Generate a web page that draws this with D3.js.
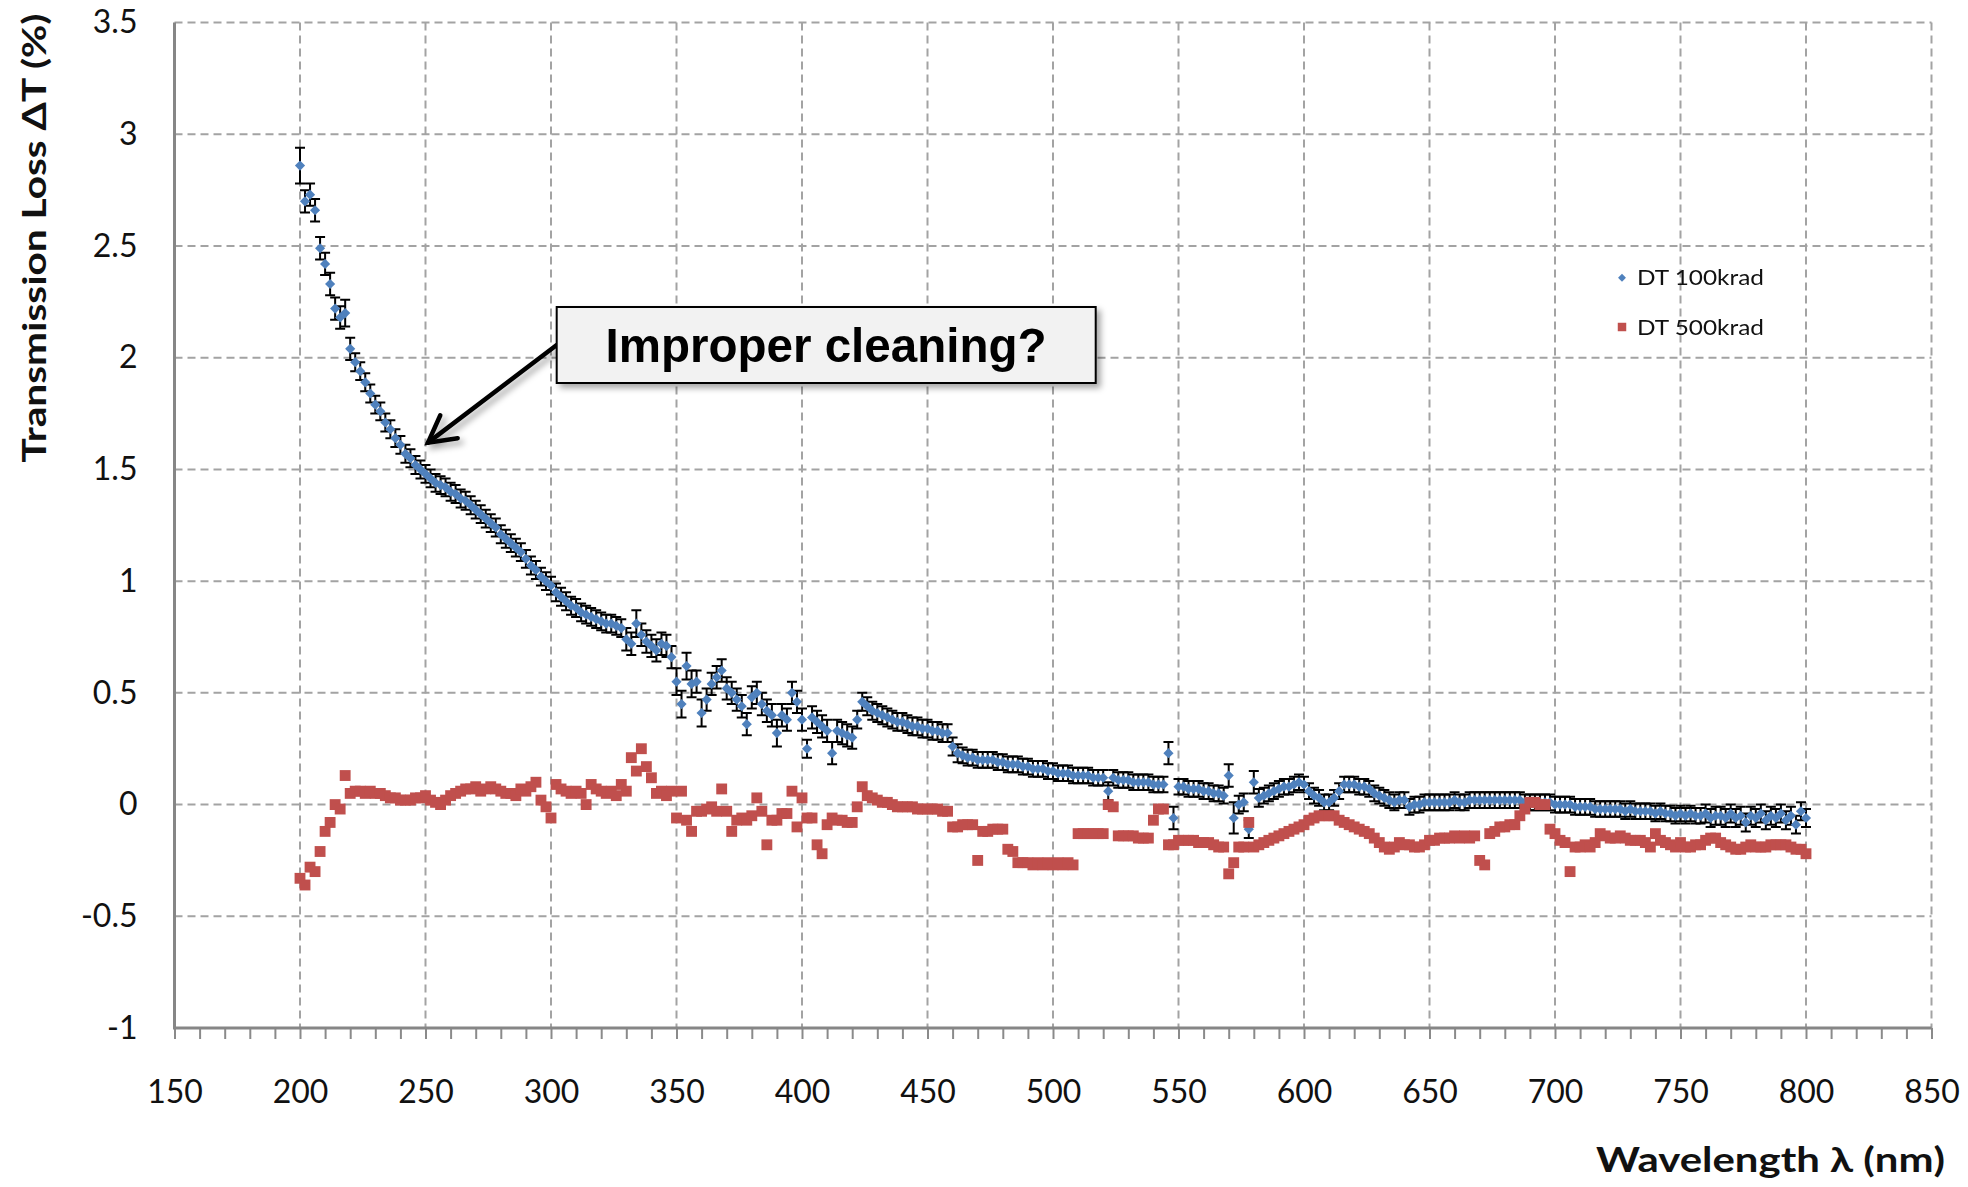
<!DOCTYPE html>
<html><head><meta charset="utf-8">
<script src="https://cdn.jsdelivr.net/npm/d3@7"></script>
<style>
html,body{margin:0;padding:0;background:#fff;}
svg{display:block;}
</style></head><body>
<svg id="chart" width="1968" height="1187"></svg>
<script>
// ---------------- DATA ----------------
const wavelengths = d3.range(200, 801, 2); // nm, sampled every 2 nm
const seriesNames = ["DT 100krad", "DT 500krad"];
const dt100 = [
2.86,2.70,2.73,2.66,2.49,2.42,2.33,2.22,2.18,2.20,
2.04,1.98,1.94,1.89,1.84,1.79,1.76,1.71,1.68,1.64,
1.61,1.57,1.55,1.52,1.50,1.48,1.46,1.44,1.43,1.42,
1.40,1.39,1.37,1.36,1.34,1.32,1.30,1.28,1.26,1.24,
1.21,1.19,1.17,1.15,1.13,1.10,1.07,1.05,1.02,1.00,
0.98,0.95,0.93,0.91,0.89,0.88,0.86,0.85,0.84,0.83,
0.82,0.81,0.81,0.80,0.79,0.74,0.72,0.81,0.76,0.73,
0.71,0.69,0.72,0.71,0.66,0.55,0.45,0.62,0.54,0.55,
0.41,0.47,0.54,0.57,0.60,0.52,0.50,0.47,0.44,0.36,
0.48,0.50,0.45,0.42,0.40,0.32,0.40,0.38,0.50,0.46,
0.38,0.25,0.39,0.37,0.35,0.33,0.23,0.33,0.32,0.31,
0.30,0.38,0.46,0.44,0.42,0.41,0.40,0.39,0.38,0.37,
0.37,0.36,0.35,0.35,0.34,0.34,0.33,0.33,0.32,0.32,
0.26,0.23,0.22,0.21,0.21,0.20,0.20,0.20,0.20,0.19,
0.19,0.18,0.18,0.18,0.17,0.17,0.16,0.16,0.16,0.15,
0.15,0.14,0.14,0.14,0.13,0.13,0.13,0.13,0.12,0.12,
0.12,0.06,0.12,0.11,0.11,0.11,0.10,0.10,0.10,0.10,
0.09,0.09,0.09,0.23,-0.06,0.08,0.08,0.07,0.07,0.07,
0.06,0.06,0.05,0.05,0.04,0.13,-0.06,0.00,0.01,-0.11,
0.10,0.03,0.04,0.05,0.06,0.07,0.08,0.08,0.09,0.10,
0.09,0.06,0.04,0.03,0.01,0.01,0.03,0.06,0.09,0.09,
0.09,0.08,0.08,0.07,0.05,0.04,0.03,0.02,0.01,0.02,
0.02,-0.01,0.00,0.00,0.01,0.01,0.01,0.01,0.01,0.01,
0.02,0.01,0.01,0.02,0.02,0.02,0.02,0.02,0.02,0.02,
0.02,0.02,0.02,0.02,0.01,0.01,0.01,0.01,0.01,0.01,
0.00,0.00,0.00,0.00,-0.01,-0.01,-0.01,-0.01,-0.02,-0.02,
-0.02,-0.02,-0.02,-0.02,-0.03,-0.02,-0.03,-0.03,-0.03,-0.03,
-0.04,-0.03,-0.04,-0.04,-0.05,-0.04,-0.05,-0.04,-0.05,-0.05,
-0.04,-0.06,-0.05,-0.05,-0.06,-0.04,-0.06,-0.05,-0.08,-0.05,
-0.06,-0.04,-0.07,-0.05,-0.06,-0.04,-0.07,-0.05,-0.09,-0.03,
-0.06
];
const dt100Err = [
.08,.05,.05,.05,.05,.05,.05,.05,.05,.06,
.05,.04,.04,.04,.04,.04,.04,.04,.04,.04,
.04,.04,.04,.04,.04,.04,.04,.04,.04,.04,
.04,.04,.04,.04,.04,.04,.04,.04,.04,.04,
.04,.04,.04,.04,.04,.04,.04,.04,.04,.04,
.04,.04,.04,.04,.04,.04,.04,.04,.04,.04,
.04,.04,.04,.04,.04,.05,.05,.06,.05,.05,
.05,.05,.05,.05,.05,.06,.06,.06,.06,.05,
.06,.05,.05,.05,.05,.05,.05,.05,.05,.05,
.05,.05,.05,.05,.05,.06,.05,.05,.05,.05,
.05,.04,.05,.05,.05,.05,.05,.05,.05,.05,
.05,.04,.04,.04,.04,.04,.04,.04,.04,.04,
.04,.04,.04,.04,.04,.04,.04,.04,.04,.04,
.04,.04,.035,.035,.035,.035,.035,.035,.035,.035,
.035,.035,.035,.035,.035,.035,.035,.035,.035,.035,
.035,.035,.035,.035,.035,.035,.035,.035,.035,.035,
.035,.04,.035,.035,.035,.035,.035,.035,.035,.035,
.035,.035,.035,.05,.05,.035,.035,.035,.035,.035,
.035,.035,.035,.035,.035,.05,.07,.04,.04,.04,
.05,.04,.035,.035,.035,.035,.035,.035,.035,.035,
.035,.035,.035,.035,.035,.035,.035,.035,.035,.035,
.035,.035,.035,.035,.035,.035,.035,.035,.035,.035,
.035,.035,.035,.035,.035,.035,.035,.035,.035,.035,
.035,.035,.035,.035,.035,.035,.035,.035,.035,.035,
.035,.035,.035,.035,.035,.035,.035,.035,.035,.035,
.035,.035,.035,.035,.035,.035,.035,.035,.035,.035,
.035,.035,.035,.035,.035,.035,.035,.035,.035,.035,
.035,.035,.035,.035,.035,.035,.035,.035,.035,.035,
.04,.04,.04,.04,.04,.04,.04,.04,.04,.04,
.04,.04,.04,.04,.04,.04,.04,.04,.04,.04,
.04
];
const dt500 = [
-0.33,-0.36,-0.28,-0.30,-0.21,-0.12,-0.08,0.00,-0.02,0.13,
0.05,0.06,0.06,0.05,0.06,0.05,0.05,0.04,0.03,0.03,
0.02,0.02,0.02,0.03,0.03,0.04,0.02,0.01,0.00,0.02,
0.04,0.05,0.06,0.07,0.07,0.08,0.06,0.07,0.08,0.07,
0.06,0.05,0.05,0.04,0.07,0.06,0.08,0.10,0.02,-0.01,
-0.06,0.09,0.07,0.06,0.05,0.06,0.05,0.00,0.09,0.07,
0.06,0.05,0.06,0.04,0.09,0.06,0.21,0.15,0.25,0.17,
0.12,0.05,0.06,0.04,0.06,-0.06,0.06,-0.07,-0.12,-0.03,
-0.03,-0.02,-0.01,-0.03,0.07,-0.03,-0.12,-0.07,-0.06,-0.07,
-0.05,0.03,-0.03,-0.18,-0.07,-0.07,-0.04,-0.04,0.06,-0.10,
0.03,-0.06,-0.06,-0.18,-0.22,-0.09,-0.06,-0.07,-0.07,-0.08,
-0.08,-0.01,0.08,0.04,0.03,0.02,0.01,0.01,0.00,-0.01,
-0.01,-0.01,-0.01,-0.02,-0.02,-0.02,-0.02,-0.02,-0.03,-0.03,
-0.10,-0.10,-0.09,-0.09,-0.09,-0.25,-0.12,-0.12,-0.11,-0.11,
-0.11,-0.20,-0.21,-0.26,-0.26,-0.26,-0.27,-0.26,-0.27,-0.26,
-0.27,-0.26,-0.27,-0.26,-0.27,-0.13,-0.13,-0.13,-0.13,-0.13,
-0.13,0.00,-0.01,-0.14,-0.14,-0.14,-0.14,-0.15,-0.15,-0.15,
-0.07,-0.02,-0.02,-0.18,-0.18,-0.16,-0.16,-0.16,-0.16,-0.17,
-0.17,-0.17,-0.18,-0.19,-0.19,-0.31,-0.26,-0.19,-0.19,-0.08,
-0.19,-0.18,-0.17,-0.16,-0.15,-0.14,-0.13,-0.12,-0.11,-0.10,
-0.09,-0.07,-0.06,-0.05,-0.05,-0.05,-0.05,-0.07,-0.08,-0.09,
-0.10,-0.11,-0.12,-0.13,-0.15,-0.17,-0.19,-0.20,-0.19,-0.17,
-0.18,-0.18,-0.19,-0.19,-0.18,-0.16,-0.16,-0.15,-0.15,-0.15,
-0.14,-0.15,-0.14,-0.15,-0.14,-0.25,-0.27,-0.13,-0.12,-0.10,
-0.10,-0.09,-0.09,-0.05,-0.02,0.01,0.01,0.00,0.00,-0.11,
-0.13,-0.16,-0.17,-0.30,-0.19,-0.19,-0.18,-0.19,-0.17,-0.13,
-0.14,-0.15,-0.15,-0.14,-0.15,-0.16,-0.16,-0.16,-0.17,-0.19,
-0.13,-0.16,-0.17,-0.18,-0.19,-0.17,-0.19,-0.19,-0.18,-0.18,
-0.16,-0.15,-0.15,-0.17,-0.18,-0.19,-0.20,-0.20,-0.19,-0.18,
-0.19,-0.19,-0.19,-0.18,-0.18,-0.18,-0.18,-0.19,-0.20,-0.20,
-0.22
];
const xTicks = [150,200,250,300,350,400,450,500,550,600,650,700,750,800,850];
const yTicks = [-1,-0.5,0,0.5,1,1.5,2,2.5,3,3.5];
const xTitle = "Wavelength \u03bb (nm)";
const yTitle = "Transmission Loss \u0394T (%)";
const noteText = "Improper cleaning?";
const noteTarget = {wl: 251, v: 1.62};

// ---------------- CHART ----------------
const svg = d3.select("#chart");
const x = d3.scaleLinear().domain([150, 850]).range([174.5, 1931.5]);
const y = d3.scaleLinear().domain([-1, 3.5]).range([1028, 22.6]);
const blue = "#4F81BD", red = "#C0504D";
const tickFont = "Lato, 'Open Sans', sans-serif";

const defs = svg.append("defs");
const sh = defs.append("filter").attr("id", "shadow")
  .attr("x", "-20%").attr("y", "-20%").attr("width", "150%").attr("height", "160%");
sh.append("feDropShadow").attr("dx", 4).attr("dy", 4).attr("stdDeviation", 3)
  .attr("flood-color", "#000").attr("flood-opacity", 0.35);
defs.append("filter").attr("id", "soft").append("feGaussianBlur").attr("stdDeviation", 0.7);

// grid
const gGrid = svg.append("g");
gGrid.append("g").selectAll("line").data(xTicks.filter(d => d > 150)).join("line")
  .attr("x1", d => x(d)).attr("x2", d => x(d))
  .attr("y1", y(3.5)).attr("y2", y(-1))
  .attr("stroke", "#a3a3a3").attr("stroke-width", 2).attr("stroke-dasharray", "8,5");
gGrid.append("g").selectAll("line").data(yTicks.filter(d => d > -1)).join("line")
  .attr("x1", x(150)).attr("x2", x(850))
  .attr("y1", d => y(d)).attr("y2", d => y(d))
  .attr("stroke", "#a3a3a3").attr("stroke-width", 2).attr("stroke-dasharray", "8,5");

// minor ticks on bottom axis
const minor = svg.append("g").attr("transform", `translate(0,${y(-1)})`)
  .call(d3.axisBottom(x).tickValues(d3.range(150, 851, 10)).tickSize(11).tickFormat(""));
minor.select(".domain").remove();
minor.selectAll(".tick line").attr("stroke", "#8a8a8a").attr("stroke-width", 2);

// axis lines
svg.append("line").attr("x1", x(150)).attr("x2", x(150)).attr("y1", y(3.5)).attr("y2", y(-1))
  .attr("stroke", "#868686").attr("stroke-width", 3);
svg.append("line").attr("x1", x(150) - 1.5).attr("x2", x(850)).attr("y1", y(-1)).attr("y2", y(-1))
  .attr("stroke", "#868686").attr("stroke-width", 3);

// tick labels
const xAx = svg.append("g").attr("transform", `translate(0,${y(-1)})`)
  .call(d3.axisBottom(x).tickValues(xTicks).tickSize(0).tickPadding(52).tickFormat(d => String(d)));
xAx.select(".domain").remove();
xAx.attr("font-family", tickFont).attr("font-size", 32);
xAx.selectAll("text").attr("fill", "#111");

const yAx = svg.append("g").attr("transform", `translate(${x(150)},0)`)
  .call(d3.axisLeft(y).tickValues(yTicks).tickSize(0).tickPadding(37).tickFormat(d => String(+d.toFixed(1))));
yAx.select(".domain").remove();
yAx.attr("font-family", tickFont).attr("font-size", 32);
yAx.selectAll("text").attr("fill", "#111");

// titles
svg.append("text").attr("transform", "translate(46,238) rotate(-90)")
  .attr("text-anchor", "middle").attr("font-family", tickFont).attr("font-weight", "bold")
  .attr("font-size", 33).attr("fill", "#111")
  .attr("textLength", 449).attr("lengthAdjust", "spacingAndGlyphs").text(yTitle);
svg.append("text").attr("x", 1596).attr("y", 1172)
  .attr("font-family", tickFont).attr("font-weight", "bold")
  .attr("font-size", 34).attr("fill", "#111")
  .attr("textLength", 349).attr("lengthAdjust", "spacingAndGlyphs").text(xTitle);

// data points
const d100 = wavelengths.map((w, i) => ({w, v: dt100[i], e: dt100Err[i]}));
const d500 = wavelengths.map((w, i) => ({w, v: dt500[i]}));

const gData = svg.append("g").attr("filter", "url(#soft)");
const gErr = gData.append("g").attr("stroke", "#000").attr("stroke-width", 2);
gErr.selectAll("path").data(d100).join("path")
  .attr("d", d => {
    const xx = x(d.w), y1 = y(d.v + d.e), y2 = y(d.v - d.e);
    return `M${xx},${y1}V${y2}M${xx - 5},${y1}H${xx + 5}M${xx - 5},${y2}H${xx + 5}`;
  });

const diamond = d3.symbol(d3.symbolDiamond2, 66)();
gData.append("g").selectAll("path").data(d100).join("path")
  .attr("transform", d => `translate(${x(d.w)},${y(d.v)})`)
  .attr("d", diamond).attr("fill", blue);

const square = d3.symbol(d3.symbolSquare, 118)();
gData.append("g").selectAll("path").data(d500).join("path")
  .attr("transform", d => `translate(${x(d.w)},${y(d.v)})`)
  .attr("d", square).attr("fill", red);

// legend
const leg = svg.append("g").attr("font-family", tickFont).attr("font-size", 22).attr("fill", "#111");
const legItems = [{name: seriesNames[0], color: blue, sym: d3.symbol(d3.symbolDiamond2, 40)(), yy: 277.7},
                  {name: seriesNames[1], color: red, sym: d3.symbol(d3.symbolSquare, 72)(), yy: 327}];
legItems.forEach(it => {
  leg.append("path").attr("d", it.sym).attr("fill", it.color).attr("transform", `translate(1622,${it.yy})`);
  leg.append("text").attr("x", 1637).attr("y", it.yy).attr("dy", "0.35em")
    .attr("textLength", 127).attr("lengthAdjust", "spacingAndGlyphs").text(it.name);
});

// annotation arrow
const tip = [x(noteTarget.wl), y(noteTarget.v)];
const start = [556.7, 345];
const ang = Math.atan2(start[1] - tip[1], start[0] - tip[0]);
const hl = 30, ha = 0.5;
const a1 = [tip[0] + hl * Math.cos(ang - ha), tip[1] + hl * Math.sin(ang - ha)];
const a2 = [tip[0] + hl * Math.cos(ang + ha), tip[1] + hl * Math.sin(ang + ha)];
const arrow = svg.append("g").attr("filter", "url(#shadow)").attr("stroke", "#000")
  .attr("stroke-width", 4.5).attr("fill", "none").attr("stroke-linecap", "round").attr("stroke-linejoin", "miter");
arrow.append("path").attr("d", `M${start[0]},${start[1]}L${tip[0]},${tip[1]}`);
arrow.append("path").attr("d", `M${a1[0]},${a1[1]}L${tip[0]},${tip[1]}L${a2[0]},${a2[1]}`);

// annotation box
svg.append("rect").attr("x", 556.7).attr("y", 307).attr("width", 539).attr("height", 76)
  .attr("fill", "#f2f2f2").attr("stroke", "#000").attr("stroke-width", 2).attr("filter", "url(#shadow)");
svg.append("text").attr("x", 826).attr("y", 362).attr("text-anchor", "middle")
  .attr("font-family", "'Liberation Sans', Arial, sans-serif").attr("font-weight", "bold")
  .attr("font-size", 48).attr("fill", "#000")
  .attr("textLength", 441).attr("lengthAdjust", "spacingAndGlyphs").text(noteText);
</script>
</body></html>
